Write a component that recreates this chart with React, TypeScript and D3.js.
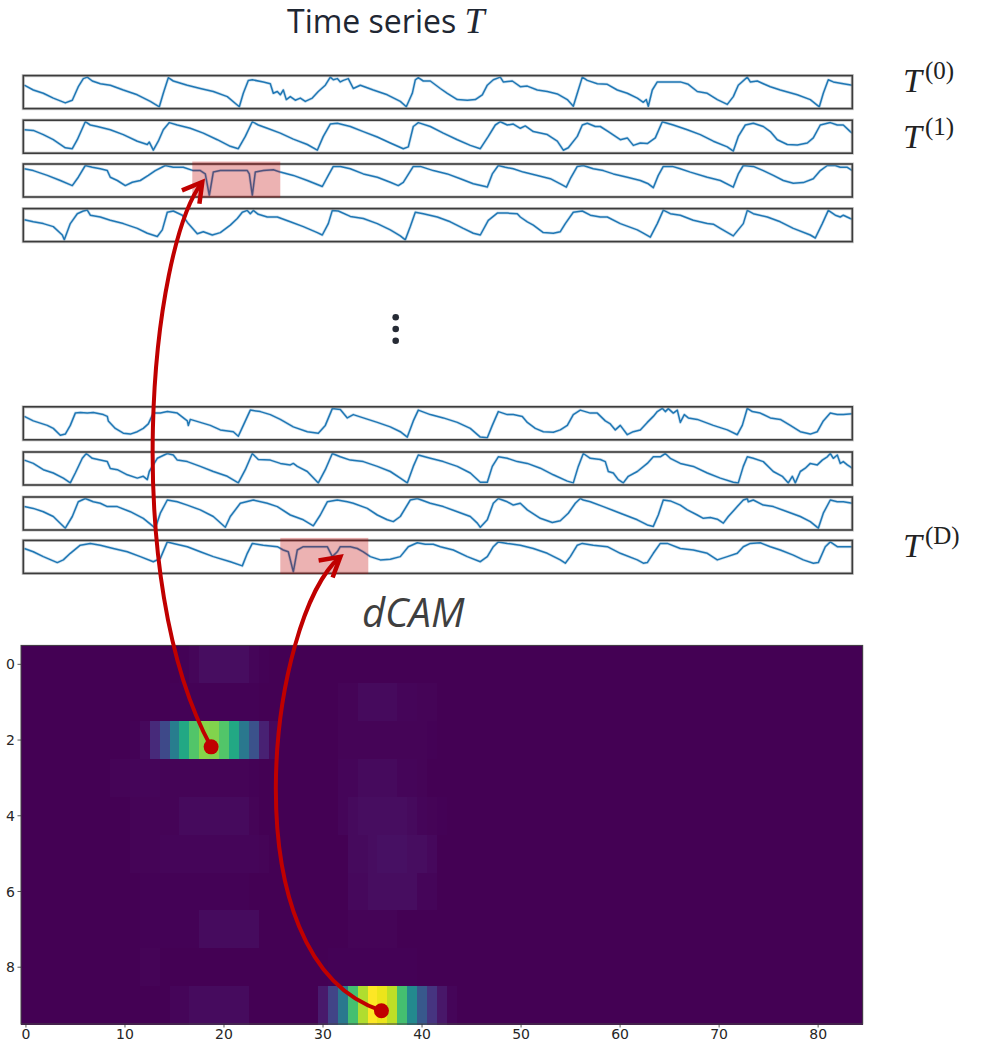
import React from "react";
import * as d3 from "d3";

const W = 987,
  H = 1042;

// time series panels, each point is [time step, level 0..100 of the panel height]
const seriesT0 = [[1,73],[10,57],[20,46],[30,30],[42,14],[49,23],[55,68],[60,95],[64,100],[69,87],[77,78],[87,73],[100,57],[114,41],[127,19],[136,1],[140,46],[145,98],[150,87],[164,73],[177,62],[190,52],[204,35],[216,1],[220,46],[225,89],[229,91],[240,84],[247,78],[250,46],[254,52],[257,41],[260,57],[263,25],[267,35],[272,23],[277,30],[282,19],[289,30],[295,52],[302,73],[307,100],[310,91],[314,95],[317,84],[320,89],[325,95],[330,62],[337,73],[350,57],[364,41],[377,19],[383,1],[389,46],[392,91],[395,98],[400,87],[407,87],[417,62],[424,46],[434,25],[444,23],[452,25],[459,41],[464,73],[470,91],[477,100],[480,84],[489,87],[497,68],[504,70],[514,57],[524,52],[534,44],[544,25],[550,3],[554,46],[559,100],[564,89],[574,78],[584,76],[594,57],[604,46],[614,30],[620,16],[623,25],[625,3],[629,57],[634,84],[644,84],[657,84],[665,76],[674,52],[684,46],[694,25],[704,9],[710,35],[715,73],[724,100],[727,84],[734,87],[740,78],[747,68],[757,57],[774,41],[787,25],[796,1],[800,46],[805,91],[810,84],[820,78],[829,73]];
const seriesT1 = [[1,73],[10,71],[20,57],[30,40],[42,13],[49,10],[54,40],[62,100],[67,89],[74,84],[87,73],[100,57],[114,35],[124,24],[126,32],[130,5],[135,35],[140,73],[146,97],[154,89],[167,78],[180,62],[194,40],[207,18],[215,10],[222,51],[229,100],[235,89],[244,78],[257,62],[270,42],[284,24],[294,5],[300,51],[307,92],[314,95],[327,84],[340,67],[354,49],[367,29],[380,10],[385,16],[390,84],[395,97],[407,84],[420,62],[434,40],[447,21],[457,10],[465,51],[472,89],[477,100],[484,89],[490,92],[497,78],[502,86],[510,67],[524,57],[534,35],[540,5],[545,13],[554,51],[559,89],[564,95],[572,84],[577,84],[585,67],[597,40],[604,46],[610,21],[617,29],[624,27],[632,46],[639,100],[644,95],[650,89],[664,73],[677,57],[690,35],[704,16],[710,2],[715,51],[722,89],[730,95],[740,84],[747,67],[754,40],[764,24],[774,22],[784,29],[790,46],[797,89],[807,97],[814,89],[820,89],[827,67],[829,62]];
const seriesT2 = [[1,89],[10,83],[24,67],[37,50],[49,33],[55,61],[62,100],[69,94],[77,89],[84,83],[87,61],[94,50],[102,33],[109,44],[117,50],[125,67],[132,83],[142,100],[150,94],[160,94],[170,83],[177,83],[182,72],[186,0],[190,78],[197,83],[210,83],[224,83],[226,72],[229,0],[232,78],[240,83],[250,86],[257,78],[270,67],[284,50],[299,30],[305,67],[310,97],[317,97],[327,89],[340,72],[354,61],[367,44],[375,33],[380,44],[390,97],[397,97],[410,83],[424,72],[437,56],[450,39],[462,30],[464,28],[469,72],[475,100],[482,94],[490,89],[500,78],[514,67],[527,56],[537,39],[543,28],[547,56],[554,97],[560,100],[570,89],[580,83],[590,72],[604,61],[617,50],[625,39],[630,26],[635,67],[640,97],[649,97],[657,89],[667,78],[684,61],[697,50],[710,28],[715,72],[720,100],[730,97],[740,83],[750,67],[760,50],[770,41],[780,43],[790,56],[797,83],[804,100],[812,100],[817,94],[824,94],[829,83]];
const seriesT3 = [[1,68],[10,61],[20,55],[30,45],[39,17],[41,1],[47,55],[54,88],[60,97],[64,100],[67,83],[77,77],[87,66],[100,55],[114,39],[124,23],[134,12],[139,34],[144,93],[150,97],[159,83],[165,55],[174,21],[180,28],[189,17],[197,25],[207,50],[214,72],[219,93],[224,99],[227,88],[230,99],[235,86],[244,77],[254,77],[267,61],[280,45],[294,25],[299,17],[305,55],[309,99],[315,97],[327,79],[340,72],[354,55],[367,34],[377,14],[382,1],[387,45],[392,93],[400,88],[414,77],[427,61],[440,39],[450,23],[457,17],[465,66],[474,90],[484,90],[494,88],[497,77],[504,61],[510,50],[520,25],[530,23],[537,28],[542,55],[550,93],[559,97],[567,83],[577,77],[584,77],[597,55],[614,34],[620,23],[627,10],[634,55],[640,100],[647,88],[657,83],[670,66],[684,55],[690,53],[697,39],[710,14],[720,55],[724,99],[730,88],[744,77],[757,61],[770,39],[787,17],[792,7],[799,55],[805,99],[812,83],[817,77],[820,83],[827,72],[829,70]];
const seriesT4 = [[1,73],[10,58],[24,43],[30,33],[37,10],[42,14],[47,43],[52,84],[57,86],[64,84],[70,86],[80,79],[84,73],[85,58],[92,33],[100,17],[107,14],[114,22],[120,33],[125,48],[130,84],[137,84],[144,89],[154,84],[164,58],[165,43],[167,63],[177,53],[187,43],[197,28],[210,22],[215,7],[220,43],[227,94],[237,89],[247,79],[257,63],[270,38],[284,22],[295,17],[302,43],[309,99],[317,96],[324,68],[330,79],[340,68],[354,53],[367,38],[377,22],[384,4],[390,58],[395,94],[407,79],[420,68],[434,53],[447,33],[457,4],[464,2],[469,43],[475,89],[484,79],[490,79],[499,73],[504,53],[512,33],[520,22],[530,20],[537,28],[544,43],[550,79],[557,94],[567,84],[574,84],[582,58],[587,48],[592,28],[597,43],[604,12],[610,22],[617,28],[624,53],[630,73],[634,89],[639,100],[642,89],[645,99],[650,84],[654,94],[657,53],[661,79],[665,68],[674,63],[690,43],[704,28],[714,12],[719,43],[724,100],[729,89],[737,84],[747,68],[757,63],[767,43],[777,22],[787,14],[794,22],[800,58],[807,84],[814,79],[820,79],[829,82]];
const seriesT5 = [[1,78],[10,67],[20,46],[30,35],[40,18],[47,2],[52,35],[59,84],[63,100],[69,84],[77,78],[84,73],[87,50],[94,46],[104,29],[114,18],[120,24],[124,13],[126,40],[129,57],[134,84],[144,100],[150,95],[154,78],[164,73],[177,57],[190,40],[204,24],[215,2],[222,46],[229,100],[235,80],[247,78],[257,67],[267,62],[270,67],[274,57],[284,40],[295,2],[302,46],[309,100],[317,89],[327,78],[340,73],[354,57],[367,40],[377,18],[384,2],[390,57],[395,95],[407,84],[420,73],[434,57],[447,35],[457,4],[464,4],[469,57],[475,89],[484,84],[494,73],[504,67],[517,51],[530,29],[544,8],[550,2],[555,57],[560,100],[567,84],[577,80],[582,73],[585,40],[590,35],[595,13],[600,2],[605,24],[614,40],[624,67],[630,89],[637,89],[642,100],[647,84],[657,67],[670,57],[684,35],[697,18],[710,4],[715,2],[720,57],[724,89],[730,84],[740,73],[750,40],[759,24],[765,2],[769,24],[772,2],[777,40],[782,51],[787,67],[794,62],[799,78],[804,89],[807,100],[810,84],[814,95],[817,67],[820,73],[824,62],[829,51]];
const seriesT6 = [[1,73],[10,67],[20,56],[30,40],[42,1],[49,40],[55,89],[62,100],[70,89],[77,84],[84,73],[94,73],[107,56],[120,34],[132,1],[137,51],[144,95],[154,89],[164,78],[177,62],[190,40],[202,4],[207,40],[217,84],[230,95],[244,84],[254,73],[267,45],[280,29],[290,9],[297,45],[304,89],[314,95],[324,89],[330,84],[344,67],[354,45],[364,29],[370,23],[377,40],[387,95],[394,100],[407,84],[420,73],[434,56],[447,40],[454,18],[457,4],[464,29],[470,84],[475,100],[484,89],[490,78],[497,84],[504,62],[517,34],[529,20],[537,26],[545,51],[552,84],[557,100],[560,95],[567,89],[580,73],[597,51],[614,29],[624,12],[630,7],[635,45],[640,95],[647,92],[657,78],[664,62],[674,45],[680,34],[687,37],[694,31],[700,18],[705,40],[714,73],[720,95],[724,100],[725,89],[730,95],[740,78],[750,73],[764,56],[777,40],[787,23],[795,1],[800,51],[807,95],[814,89],[820,89],[829,84]];
const seriesTD = [[1,78],[10,67],[20,51],[34,31],[40,40],[47,62],[57,89],[67,95],[77,89],[90,78],[104,67],[117,51],[130,34],[137,45],[144,100],[150,95],[164,84],[177,67],[190,51],[207,34],[219,20],[224,62],[229,95],[240,89],[254,84],[260,73],[265,67],[270,0],[274,73],[280,84],[294,84],[304,84],[309,51],[314,67],[317,84],[327,84],[334,78],[340,67],[347,51],[357,40],[367,42],[377,51],[385,84],[394,97],[402,92],[410,92],[417,84],[430,73],[444,51],[457,34],[464,51],[470,84],[475,100],[484,95],[497,89],[510,78],[524,62],[537,40],[542,29],[547,51],[554,89],[559,95],[570,89],[584,84],[597,62],[614,40],[620,29],[624,31],[630,62],[637,95],[644,95],[657,78],[670,73],[684,62],[694,40],[704,51],[714,62],[720,84],[727,95],[737,97],[747,84],[757,73],[770,56],[780,40],[790,29],[795,31],[802,84],[807,100],[814,84],[820,84],[829,84]];

const panelSeries = [seriesT0, seriesT1, seriesT2, seriesT3, seriesT4, seriesT5, seriesT6, seriesTD];
const panelLabels = ["0", "1", null, null, null, null, null, "D"];
// highlighted subsequences [panel, from step, to step]
const highlights = [[2, 169, 257], [7, 257, 345]];

// dCAM rows: segments of [first column, ...values in % of max]
const dcamRow0 = [[16, 0.5, 1.5, 3.5, 3.5, 3.5, 3.5, 3.5, 1.5, 0.5]];
const dcamRow1 = [[15, 0.5, 0.5, 0.5, 0.5, 0.5, 0.5, 0.5, 0.5, 0.5], [32, 1, 1, 2.5, 2.5, 2.5, 2.5, 1.5, 1.5, 1, 1]];
const dcamRow2 = [[11, 0.5, 2, 12, 22, 42, 60, 73, 82, 81, 73, 60, 40, 25, 9, 2], [32, 1, 1, 1, 1, 1, 1, 1, 1, 1, 0.5]];
const dcamRow3 = [[9, 1, 1, 1.5, 1.5, 1.5, 1, 1, 1, 1, 1, 1, 1, 1, 1, 0.5], [32, 1.5, 1.5, 2.5, 2.5, 2.5, 2.5, 1.5, 1.5, 1]];
const dcamRow4 = [[11, 1, 1, 1, 1, 1, 2.5, 2.5, 2.5, 2.5, 2.5, 2.5, 2.5, 1], [32, 1.5, 2.5, 3.5, 3.5, 3.5, 3.5, 3.5, 2.5, 1.5, 1, 0.5]];
const dcamRow5 = [[11, 1, 1, 1, 1.5, 1.5, 1.5, 1.5, 1.5, 1.5, 1.5, 1.5, 1.5, 1.5, 1], [33, 2.5, 2.5, 3.5, 4, 4, 4, 3.5, 3.5, 2]];
const dcamRow6 = [[12, 0.5, 0.5, 0.5, 0.5, 0.5, 0.5, 0.5, 0.5, 0.5, 0.5, 0.5], [33, 2, 2, 3.5, 3.5, 3.5, 3.5, 3.5, 1.5, 1.5]];
const dcamRow7 = [[12, 0.5, 0.5, 0.5, 0.5, 0.5, 0.5, 3, 3, 3, 3, 3, 3], [33, 1, 1, 1, 1, 1]];
const dcamRow8 = [[12, 1, 1], [31, 0.5, 0.5, 0.5, 0.5, 0.5, 0.5, 0.5, 0.5, 0.5]];
const dcamRow9 = [[15, 1.5, 1.5, 3, 3, 3, 3, 3, 3], [30, 7, 20, 40, 70, 88, 100, 97, 90, 70, 47, 27, 15, 6, 1.5]];
const dcamRows = [dcamRow0, dcamRow1, dcamRow2, dcamRow3, dcamRow4, dcamRow5, dcamRow6, dcamRow7, dcamRow8, dcamRow9];
const dcamColumns = 85;

// links from a dCAM cell [col, row] to a point [panel, step, level]
const links = [
  { from: [18.7, 2.18], to: [2, 179, 45], c1: [120, 580], c2: [150, 250] },
  { from: [35.9, 9.15], to: [7, 317, 50], c1: [225, 960], c2: [270, 615] },
];

const panelLeft = 23.3,
  panelRight = 852.3,
  panelH = 33;
const panelTops = [75.6, 120.2, 164, 208.6, 406.8, 452, 497, 540.4];
const labelBaselines = [92, 148, null, null, null, null, null, 557];

const xTime = d3.scaleLinear().domain([0, 829]).range([panelLeft, panelRight]);
const xHeat = d3.scaleLinear().domain([-0.5, dcamColumns - 0.5]).range([21, 862.7]);
const yHeat = d3.scaleLinear().domain([-0.5, 9.5]).range([645.4, 1024]);
const color = (v) => d3.interpolateViridis(v / 100);

const levelScale = (i) =>
  d3.scaleLinear().domain([0, 100]).range([panelTops[i] + panelH - 1.5, panelTops[i] + 1.5]);

const cells = [];
dcamRows.forEach((segs, r) => {
  const vals = new Array(dcamColumns).fill(0);
  segs.forEach(([start, ...v]) => v.forEach((x, k) => (vals[start + k] = x)));
  vals.forEach((v, c) => cells.push({ r, c, v }));
});

const red = "#c00000";

export default function App() {
  return (
    <svg width={W} height={H} style={{ position: "absolute", left: 0, top: 0, background: "#fff" }}>
      {/* title */}
      <text x={287} y={33} fontFamily="Open Sans" fontSize={32} fill="#1f2733">
        Time series{" "}
        <tspan fontFamily="Liberation Serif" fontStyle="italic" fontSize={36}>
          T
        </tspan>
      </text>

      {/* time series panels */}
      {panelSeries.map((s, i) => {
        const y = levelScale(i);
        const line = d3
          .line()
          .x((d) => xTime(d[0]))
          .y((d) => y(d[1]));
        const d = line(s);
        return (
          <g key={i}>
            <rect x={panelLeft} y={panelTops[i]} width={panelRight - panelLeft} height={panelH} fill="#fff" />
            <path d={d} fill="none" stroke="#1f77b4" strokeWidth={3} strokeOpacity={0.22} strokeLinejoin="round" />
            <path d={d} fill="none" stroke="#1f77b4" strokeWidth={1.5} strokeLinejoin="round" />
            <rect
              x={panelLeft}
              y={panelTops[i]}
              width={panelRight - panelLeft}
              height={panelH}
              fill="none"
              stroke="#999"
              strokeWidth={3.2}
              strokeOpacity={0.5}
            />
            <rect
              x={panelLeft}
              y={panelTops[i]}
              width={panelRight - panelLeft}
              height={panelH}
              fill="none"
              stroke="#3c3c3c"
              strokeWidth={1.6}
            />
          </g>
        );
      })}

      {highlights.map(([p, a, b], k) => (
        <rect
          key={k}
          x={xTime(a)}
          y={panelTops[p] - 2.5}
          width={xTime(b) - xTime(a)}
          height={panelH + 3}
          fill={red}
          fillOpacity={0.3}
        />
      ))}

      {/* T labels */}
      {panelLabels.map((lab, i) =>
        lab == null ? null : (
          <text key={i} x={903} y={labelBaselines[i]} fontFamily="Liberation Serif" fill="#222">
            <tspan fontStyle="italic" fontSize={34}>
              T
            </tspan>
            <tspan fontSize={25} dx={3} dy={-13}>
              ({lab})
            </tspan>
          </text>
        )
      )}

      {/* vertical ellipsis */}
      {[317.3, 329, 340.7].map((cy) => (
        <circle key={cy} cx={395.7} cy={cy} r={3.3} fill="#262b35" />
      ))}

      {/* dCAM heatmap */}
      <text x={362} y={627} fontFamily="Open Sans" fontStyle="italic" fontSize={40} fill="#3f3f3f">
        dCAM
      </text>
      <g shapeRendering="crispEdges">
        {cells.map(({ r, c, v }) => (
          <rect
            key={`${r}-${c}`}
            x={xHeat(c - 0.5)}
            y={yHeat(r - 0.5)}
            width={xHeat(c + 0.5) - xHeat(c - 0.5) + 0.5}
            height={yHeat(r + 0.5) - yHeat(r - 0.5) + 0.5}
            fill={color(v)}
          />
        ))}
      </g>
      <rect
        x={xHeat(-0.5)}
        y={yHeat(-0.5)}
        width={xHeat(dcamColumns - 0.5) - xHeat(-0.5)}
        height={yHeat(9.5) - yHeat(-0.5)}
        fill="none"
        stroke="#444"
        strokeWidth={1}
      />
      {xHeat.ticks(9).map((t) => (
        <g key={t}>
          <line x1={xHeat(t)} x2={xHeat(t)} y1={yHeat(9.5)} y2={yHeat(9.5) + 3.5} stroke="#333" strokeWidth={0.8} />
          <text x={xHeat(t)} y={1039} textAnchor="middle" fontFamily="DejaVu Sans" fontSize={14} fill="#262626">
            {t}
          </text>
        </g>
      ))}
      {yHeat.ticks(5).map((t) => (
        <g key={t}>
          <line x1={xHeat(-0.5) - 3.5} x2={xHeat(-0.5)} y1={yHeat(t)} y2={yHeat(t)} stroke="#333" strokeWidth={0.8} />
          <text x={15} y={yHeat(t)} dy="0.36em" textAnchor="end" fontFamily="DejaVu Sans" fontSize={14} fill="#262626">
            {t}
          </text>
        </g>
      ))}

      {/* arrows linking dCAM cells to the subsequences */}
      {links.map((l, k) => {
        const p0 = [xHeat(l.from[0]), yHeat(l.from[1])];
        const [pi, step, lev] = l.to;
        const p3 = [xTime(step), levelScale(pi)(lev)];
        const path = d3.path();
        path.moveTo(p0[0], p0[1]);
        path.bezierCurveTo(l.c1[0], l.c1[1], l.c2[0], l.c2[1], p3[0], p3[1]);
        const ang = Math.atan2(p3[1] - l.c2[1], p3[0] - l.c2[0]);
        const len = 22,
          spread = Math.PI / 6;
        const w1 = [p3[0] - len * Math.cos(ang - spread), p3[1] - len * Math.sin(ang - spread)];
        const w2 = [p3[0] - len * Math.cos(ang + spread), p3[1] - len * Math.sin(ang + spread)];
        return (
          <g key={k}>
            <path d={path.toString()} fill="none" stroke={red} strokeWidth={4} />
            <polyline
              points={`${w1[0]},${w1[1]} ${p3[0]},${p3[1]} ${w2[0]},${w2[1]}`}
              fill="none"
              stroke={red}
              strokeWidth={4.5}
              strokeLinejoin="miter"
            />
            <circle cx={p0[0]} cy={p0[1]} r={7.5} fill={red} />
          </g>
        );
      })}
    </svg>
  );
}
